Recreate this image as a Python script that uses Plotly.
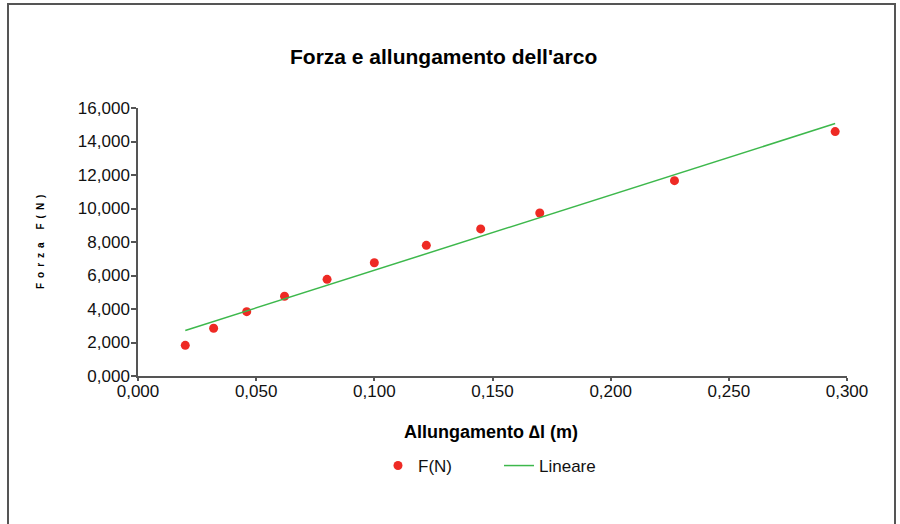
import numpy as np
import plotly.graph_objects as go

# Data
allungamento = [0.020, 0.032, 0.046, 0.062, 0.080, 0.100, 0.122, 0.145, 0.170, 0.227, 0.295]
forza = [1.83, 2.85, 3.84, 4.76, 5.77, 6.76, 7.80, 8.78, 9.73, 11.66, 14.59]

x_ticks = [0.0, 0.05, 0.10, 0.15, 0.20, 0.25, 0.30]
y_ticks = [0, 2, 4, 6, 8, 10, 12, 14, 16]

title_text = "Forza e allungamento dell'arco"
x_title = "Allungamento \u2206l (m)"
y_title = "Forza F(N)"

# Linear trendline fitted from the data
slope, intercept = np.polyfit(allungamento, forza, 1)
fit_x = [min(allungamento), max(allungamento)]
fit_y = [slope * v + intercept for v in fit_x]

RED = "#EE2A24"
GREEN = "#3DB84C"
AXIS = "#555555"
FONT = "Liberation Sans, Arial, sans-serif"

fig = go.Figure()
fig.add_trace(go.Scatter(
    x=allungamento, y=forza, mode="markers", name="F(N)",
    marker=dict(color=RED, size=9, line=dict(width=0)),
))
fig.add_trace(go.Scatter(
    x=fit_x, y=fit_y, mode="lines", name="Lineare",
    line=dict(color=GREEN, width=1.5),
))

L, R, T, B = 138, 53, 108, 148
W, H = 900, 524
pw, ph = W - L - R, H - T - B

def px(xpix):
    return (xpix - L) / pw

def py(ypix):
    return (H - B - ypix) / ph

fig.update_layout(
    width=W, height=H,
    margin=dict(l=L, r=R, t=T, b=B, pad=0),
    paper_bgcolor="white", plot_bgcolor="white",
    separators=",.",
    font=dict(family=FONT, size=17, color="#111111"),
    showlegend=True,
    legend=dict(
        orientation="h", x=px(378), xanchor="left", y=py(466), yanchor="middle",
        font=dict(size=17, color="#111111"),
        entrywidth=76, entrywidthmode="pixels",
        bgcolor="rgba(0,0,0,0)",
    ),
    xaxis=dict(
        range=[0, 0.3], tickvals=x_ticks, tickformat=".3f",
        showgrid=False, zeroline=False, showline=True, linecolor=AXIS, linewidth=1.5,
        ticks="outside", ticklen=3, tickcolor=AXIS, tickwidth=1.5,
        ticklabelstandoff=-4,
        tickfont=dict(size=17, color="#111111"),
    ),
    yaxis=dict(
        range=[0, 16], tickvals=y_ticks, tickformat=".3f",
        showgrid=False, zeroline=False, showline=True, linecolor=AXIS, linewidth=1.5,
        ticks="outside", ticklen=5, tickcolor=AXIS, tickwidth=1.5,
        ticklabelstandoff=-2,
        tickfont=dict(size=17, color="#111111"),
    ),
    annotations=[
        dict(text="<b>" + title_text + "</b>", xref="paper", yref="paper",
             x=px(443), y=py(57), xanchor="center", yanchor="middle",
             showarrow=False, font=dict(size=21, color="#000000")),
        dict(text="<b>" + x_title + "</b>", xref="paper", yref="paper",
             x=px(491), y=py(432), xanchor="center", yanchor="middle",
             showarrow=False, font=dict(size=18, color="#000000")),
        dict(text="<b>" + "\u2002".join(list(y_title)) + "</b>", xref="paper", yref="paper",
             x=px(40), y=py(242), xanchor="center", yanchor="middle", textangle=-90,
             showarrow=False, font=dict(size=10, color="#000000")),
    ],
    shapes=[
        dict(type="rect", xref="paper", yref="paper",
             x0=px(8), x1=px(895), y0=py(540), y1=py(4),
             line=dict(color="#555555", width=2), fillcolor="rgba(0,0,0,0)", layer="below"),
    ],
)

fig.write_html("out.html",
               config={"displayModeBar": False},
               post_script="document.body.style.margin='0';document.body.style.overflow='hidden';")
